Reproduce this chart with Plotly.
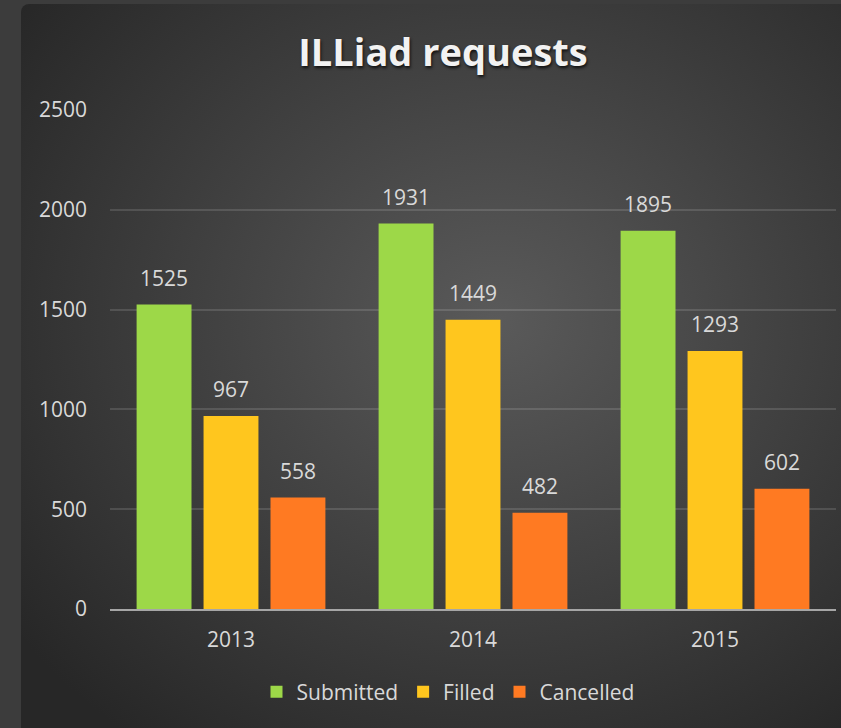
import base64
import plotly.graph_objects as go

years = ["2013", "2014", "2015"]
submitted = [1525, 1931, 1895]
filled = [967, 1449, 1293]
cancelled = [558, 482, 602]
series_names = ["Submitted", "Filled", "Cancelled"]
series_values = [submitted, filled, cancelled]
series_colors = ["#9dd848", "#ffc61e", "#ff7a22"]
y_ticks = [0, 500, 1000, 1500, 2000, 2500]

W, H = 841, 728
ML, MR, MT, MB = 110, 5, 110, 119
pw, ph = W - ML - MR, H - MT - MB
FS = 21

# panel background (radial gradient, rounded top-left corner)
px0, py0 = 21, 4
pwid, phei = W - px0, H - py0
svg = (
    f"<svg xmlns='http://www.w3.org/2000/svg' width='{pwid}' height='{phei}' viewBox='0 0 {pwid} {phei}' preserveAspectRatio='none'>"
    "<defs><radialGradient id='g' cx='0.56' cy='0.42' r='0.7'>"
    "<stop offset='0' stop-color='#5a5a5a'/><stop offset='0.55' stop-color='#3e3e3e'/>"
    "<stop offset='1' stop-color='#272727'/></radialGradient></defs>"
    f"<rect x='0' y='0' width='{pwid + 30}' height='{phei + 30}' rx='8' ry='8' fill='url(#g)'/></svg>"
)
src = "data:image/svg+xml;base64," + base64.b64encode(svg.encode()).decode()

fig = go.Figure()
for name, vals, col in zip(series_names, series_values, series_colors):
    fig.add_trace(go.Bar(x=years, y=vals, name=name, marker=dict(color=col, line=dict(width=0))))
for name, vals in zip(series_names, series_values):
    fig.add_trace(go.Scatter(
        x=years, y=vals, mode="markers+text", text=[str(v) for v in vals],
        textposition="top center", showlegend=False, hoverinfo="skip",
        marker=dict(size=20, color="rgba(0,0,0,0)"),
        textfont=dict(family="Open Sans", size=FS, color="#d9d9d9"),
    ))

fig.update_layout(
    width=W, height=H,
    margin=dict(l=ML, r=MR, t=MT, b=MB),
    paper_bgcolor="#3c3c3c", plot_bgcolor="rgba(0,0,0,0)",
    barmode="group", bargap=0.17, bargroupgap=0.18,
    scattermode="group", scattergap=0.17,
    title=dict(text="<b>ILLiad requests</b>", x=443 / W, xref="container", xanchor="center",
               y=1 - 53 / H, yref="container", yanchor="middle",
               font=dict(family="Open Sans", size=38, color="#f2f2f2", shadow="1px 2px 3px #111")),
    font=dict(family="Open Sans", size=FS, color="#d9d9d9"),
    legend=dict(orientation="h", x=448 / W, xanchor="center", xref="container",
                y=1 - 692 / H, yref="container", yanchor="middle",
                font=dict(size=FS, color="#d9d9d9"), bgcolor="rgba(0,0,0,0)", itemwidth=30, traceorder="normal"),
    images=[dict(source=src, xref="paper", yref="paper",
                 x=(px0 - ML) / pw, y=(H - MB - py0) / ph,
                 sizex=pwid / pw, sizey=phei / ph, xanchor="left", yanchor="top",
                 sizing="stretch", layer="below")],
    showlegend=True,
)
fig.update_yaxes(range=[0, 2500], tickvals=y_ticks, showgrid=True, gridcolor="rgba(255,255,255,0.13)",
                 gridwidth=1.5, zeroline=False, showline=False, ticks="", ticklabelstandoff=22,
                 tickfont=dict(size=FS, color="#d9d9d9"))
fig.update_xaxes(showline=True, linecolor="#a6a6a6", linewidth=2, ticks="", ticklabelstandoff=11,
                 tickfont=dict(size=FS, color="#d9d9d9"))

fig.write_html("out.html", config={"displayModeBar": False},
               post_script="document.body.style.margin='0';document.body.style.background='#3c3c3c';")
